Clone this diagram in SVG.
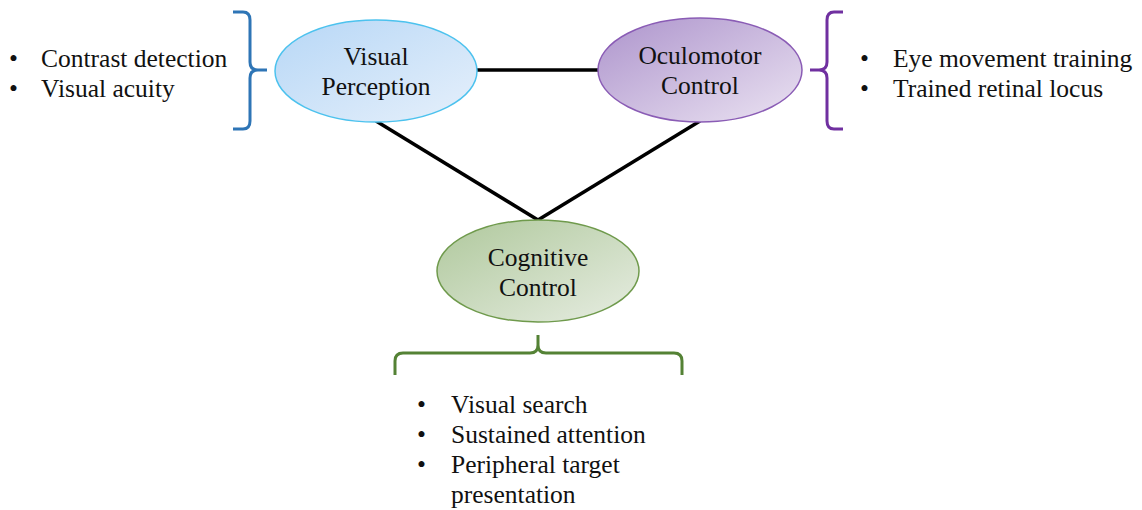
<svg xmlns="http://www.w3.org/2000/svg" width="1142" height="510" viewBox="0 0 1142 510" font-family="'Liberation Serif', 'Times New Roman', 'DejaVu Serif', serif">
<defs>
<linearGradient id="gBlue" x1="0" y1="0" x2="1" y2="1"><stop offset="0" stop-color="#b7d7f6"/><stop offset="1" stop-color="#e6f0fb"/></linearGradient>
<linearGradient id="gPurple" x1="0" y1="0" x2="1" y2="1"><stop offset="0" stop-color="#ad94cc"/><stop offset="1" stop-color="#ebe3f2"/></linearGradient>
<linearGradient id="gGreen" x1="0" y1="0" x2="1" y2="1"><stop offset="0" stop-color="#afc89c"/><stop offset="1" stop-color="#e7ede2"/></linearGradient>
<style>
text{font-size:25.5px;fill:#111}
.c{text-anchor:middle}
.br{fill:none;stroke-width:3;stroke-linejoin:round}
.ln{stroke:#000;stroke-width:3.5;fill:none}
</style>
</defs>
<rect width="1142" height="510" fill="#fff"/>
<g id="connectors">
<line class="ln" x1="477" y1="70" x2="598" y2="70"/>
<line class="ln" x1="376" y1="121" x2="538" y2="220"/>
<line class="ln" x1="700" y1="121" x2="538" y2="220"/>
</g>
<g id="visual-perception">
<ellipse cx="376" cy="71" rx="101" ry="51" fill="url(#gBlue)" stroke="#4cc2ee" stroke-width="1.5"/>
<text class="c" x="376" y="65">Visual</text>
<text class="c" x="376" y="95">Perception</text>
</g>
<g id="oculomotor-control">
<ellipse cx="700" cy="70" rx="102" ry="52" fill="url(#gPurple)" stroke="#8a5cb5" stroke-width="1.5"/>
<text class="c" x="700" y="64">Oculomotor</text>
<text class="c" x="700" y="94">Control</text>
</g>
<g id="cognitive-control">
<ellipse cx="538" cy="271" rx="101" ry="51" fill="url(#gGreen)" stroke="#6f9a4c" stroke-width="1.5"/>
<text class="c" x="538" y="266">Cognitive</text>
<text class="c" x="538" y="296">Control</text>
</g>
<g id="perception-list">
<path class="br" stroke="#2e75b6" d="M233,12 H243 Q250,12 250,20 V62 Q250,70 258,70 H267 M258,70 Q250,70 250,78 V121 Q250,129 243,129 H233"/>
<text x="9" y="67">•</text><text x="41" y="67">Contrast detection</text>
<text x="9" y="97">•</text><text x="41" y="97">Visual acuity</text>
</g>
<g id="oculomotor-list">
<path class="br" stroke="#7030a0" d="M843,12 H834 Q827,12 827,20 V62 Q827,70 819,70 H810 M819,70 Q827,70 827,78 V121 Q827,129 834,129 H843"/>
<text x="860" y="67">•</text><text x="893" y="67">Eye movement training</text>
<text x="860" y="97">•</text><text x="893" y="97">Trained retinal locus</text>
</g>
<g id="cognitive-list">
<path class="br" stroke="#548235" d="M395,375 V361 Q395,353 403,353 H530 Q538,353 538,345 V335 M538,345 Q538,353 546,353 H674 Q682,353 682,361 V375"/>
<text x="417" y="413">•</text><text x="451" y="413">Visual search</text>
<text x="417" y="443">•</text><text x="451" y="443">Sustained attention</text>
<text x="417" y="473">•</text><text x="451" y="473">Peripheral target</text>
<text x="451" y="503">presentation</text>
</g>
</svg>
